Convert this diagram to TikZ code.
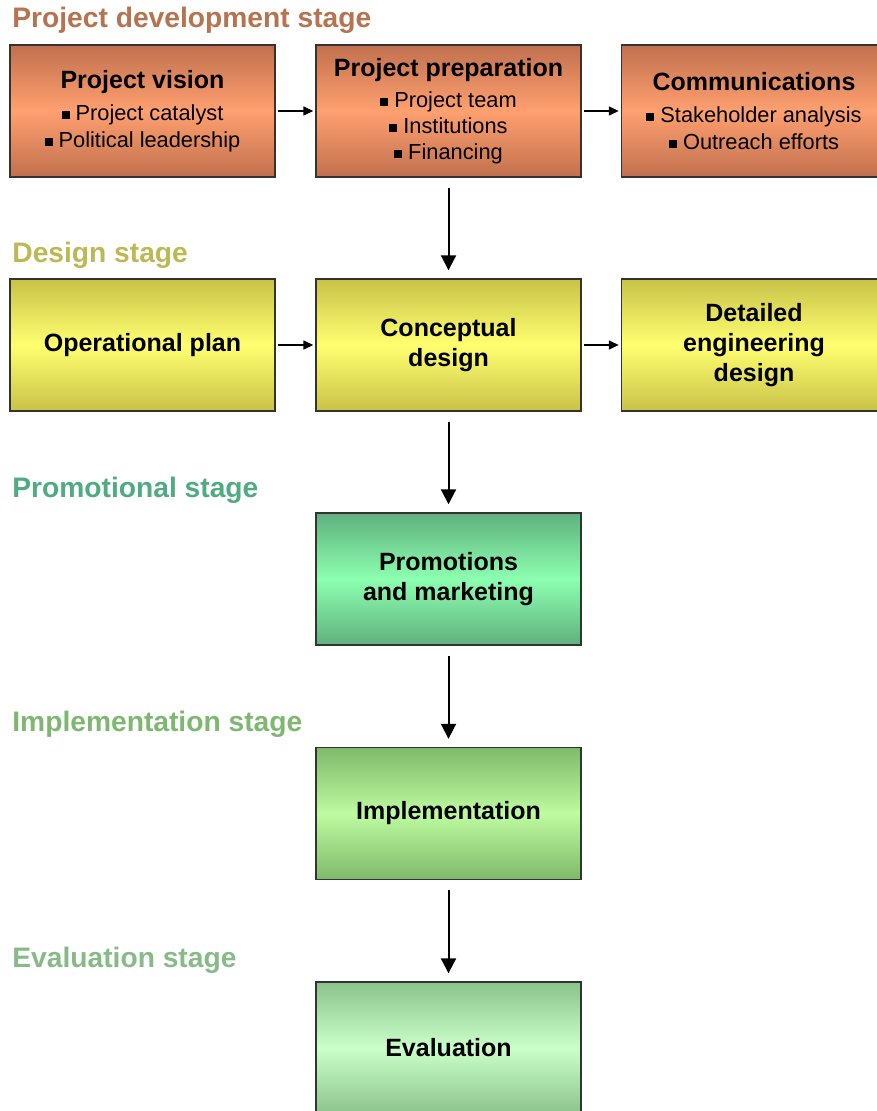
\documentclass[tikz,border=0pt]{standalone}
\usepackage{fontspec}
\setmainfont{Liberation Sans}
\usetikzlibrary{arrows.meta}

\definecolor{devlabel}{RGB}{181,115,80}
\definecolor{devedge}{RGB}{192,112,78}
\definecolor{devmid}{RGB}{255,160,112}
\definecolor{deslabel}{RGB}{190,184,84}
\definecolor{desedge}{RGB}{200,194,72}
\definecolor{desmid}{RGB}{255,255,112}
\definecolor{promlabel}{RGB}{80,170,130}
\definecolor{promedge}{RGB}{96,176,126}
\definecolor{prommid}{RGB}{140,255,176}
\definecolor{impllabel}{RGB}{126,184,112}
\definecolor{impledge}{RGB}{126,186,106}
\definecolor{implmid}{RGB}{190,250,160}
\definecolor{evallabel}{RGB}{136,186,136}
\definecolor{evaledge}{RGB}{140,194,140}
\definecolor{evalmid}{RGB}{202,255,202}

\newcommand{\bul}{\rule[0.15ex]{4pt}{4pt}\hspace{3pt}}
\newcommand{\boxhead}[1]{{\bfseries\fontsize{12.5}{15}\selectfont #1}}
\newcommand{\headfont}{\bfseries\fontsize{12.5}{15}\selectfont}

\tikzset{
  stagebox/.style={draw=black!80, line width=.7pt, minimum width=132.5pt,
    minimum height=66pt, align=center, inner sep=0pt,
    font=\fontsize{10.9}{13.5}\selectfont},
  devbox/.style={stagebox, top color=devedge, bottom color=devedge, middle color=devmid},
  desbox/.style={stagebox, top color=desedge, bottom color=desedge, middle color=desmid, font=\headfont},
  prombox/.style={stagebox, top color=promedge, bottom color=promedge, middle color=prommid, font=\headfont},
  implbox/.style={stagebox, top color=impledge, bottom color=impledge, middle color=implmid, font=\headfont},
  evalbox/.style={stagebox, top color=evaledge, bottom color=evaledge, middle color=evalmid, font=\headfont},
  stagelabel/.style={anchor=base west, inner sep=0pt, font=\bfseries\fontsize{14.1}{16}\selectfont},
  flow/.style={-{Triangle[width=7.5pt,length=7.5pt]}, line width=1pt, shorten <=5pt, shorten >=4pt},
  sideflow/.style={-{Triangle[width=4.5pt,length=5pt]}, line width=.7pt, shorten <=1pt, shorten >=1pt}
}

\begin{document}
\begin{tikzpicture}[x=0.5pt, y=-0.5pt]
\useasboundingbox (0,0) rectangle (876,1111);

\node[stagelabel, devlabel] (devstage) at (12,28) {Project development stage};
\node[stagelabel, deslabel] (desstage) at (12,263) {Design stage};
\node[stagelabel, promlabel] (promstage) at (12,497) {Promotional stage};
\node[stagelabel, impllabel] (implstage) at (12,731) {Implementation stage};
\node[stagelabel, evallabel] (evalstage) at (12,967) {Evaluation stage};

\node[devbox] (vision) at (142.5,111) {\boxhead{Project vision}\\[2.5pt]
  \bul Project catalyst\\ \bul Political leadership};
\node[devbox] (prep) at (448.5,111) {\boxhead{Project preparation}\\[2pt]
  \bul Project team\\[-0.5pt] \bul Institutions\\[-0.5pt] \bul Financing};
\node[devbox] (comms) at (754,111) {\boxhead{Communications}\\[2.5pt]
  \bul Stakeholder analysis\\ \bul Outreach efforts};

\node[desbox] (opplan) at (142.5,345) {Operational plan};
\node[desbox] (concept) at (448.5,345) {Conceptual\\design};
\node[desbox] (detail) at (754,345) {Detailed\\engineering\\design};

\node[prombox] (promo) at (448.5,579) {Promotions\\and marketing};
\node[implbox] (impl) at (448.5,813.5) {Implementation};
\node[evalbox] (evaluation) at (448.5,1048) {Evaluation};

\draw[sideflow] (vision) to (prep);
\draw[sideflow] (prep) to (comms);
\draw[sideflow] (opplan) to (concept);
\draw[sideflow] (concept) to (detail);

\draw[flow] (prep) to (concept);
\draw[flow] (concept) to (promo);
\draw[flow] (promo) to (impl);
\draw[flow] (impl) to (evaluation);
\end{tikzpicture}
\end{document}
